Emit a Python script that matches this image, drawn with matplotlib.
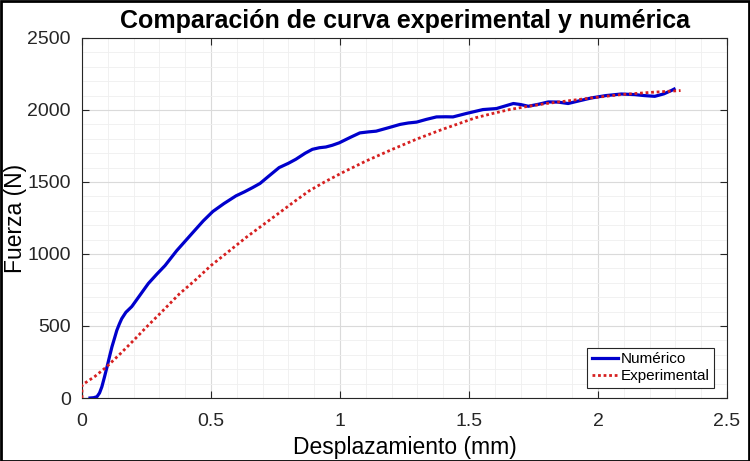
import matplotlib
matplotlib.use('Agg')
import matplotlib.pyplot as plt
from matplotlib.ticker import MultipleLocator

plt.rcParams['font.family'] = ['Liberation Sans', 'DejaVu Sans']

# curva numerica (desplazamiento mm, fuerza N)
num_x = [0.031, 0.045, 0.058, 0.068, 0.077, 0.087, 0.097, 0.107, 0.116, 0.126,
         0.135, 0.145, 0.154, 0.17, 0.193, 0.225, 0.257, 0.29, 0.322, 0.367,
         0.43, 0.47, 0.507, 0.55, 0.597, 0.63, 0.661, 0.69, 0.72, 0.764,
         0.80, 0.829, 0.865, 0.893, 0.92, 0.945, 0.97, 0.997, 1.04, 1.077,
         1.11, 1.14, 1.19, 1.233, 1.265, 1.297, 1.335, 1.374, 1.41, 1.438,
         1.49, 1.554, 1.606, 1.64, 1.672, 1.70, 1.73, 1.77, 1.807, 1.845,
         1.884, 1.93, 1.975, 2.03, 2.09, 2.142, 2.18, 2.22, 2.255, 2.284, 2.295]
num_y = [0, 2, 9, 35, 78, 145, 216, 290, 355, 415,
         470, 515, 551, 595, 635, 715, 795, 860, 920, 1023,
         1150, 1230, 1295, 1350, 1404, 1432, 1461, 1490, 1535, 1600,
         1630, 1658, 1700, 1727, 1738, 1743, 1755, 1772, 1810, 1841,
         1848, 1853, 1878, 1900, 1910, 1916, 1935, 1952, 1953, 1952,
         1976, 2003, 2010, 2028, 2045, 2038, 2026, 2040, 2056, 2055,
         2045, 2065, 2084, 2100, 2111, 2107, 2100, 2095, 2112, 2135, 2145]

# curva experimental
exp_x = [0, 0, 0.05, 0.095, 0.15, 0.2, 0.25, 0.31, 0.378, 0.44,
         0.5, 0.57, 0.636, 0.7, 0.764, 0.82, 0.88, 0.94, 1.009, 1.1,
         1.203, 1.3, 1.396, 1.46, 1.525, 1.59, 1.657, 1.73, 1.8, 1.89,
         1.975, 2.09, 2.2, 2.32]
exp_y = [0, 90, 150, 216, 310, 400, 493, 600, 724, 820,
         920, 1020, 1115, 1200, 1285, 1360, 1438, 1500, 1565, 1645,
         1727, 1800, 1865, 1905, 1946, 1975, 2003, 2026, 2045, 2065,
         2084, 2107, 2122, 2135]

fig = plt.figure(figsize=(7.5, 4.61), dpi=100)
ax = fig.add_axes([82 / 750, 1 - 398 / 461, 645 / 750, 360 / 461])

ax.plot(num_x, num_y, color='#0000CC', lw=2.3, label='Numérico', zorder=3)
ax.plot(exp_x, exp_y, color='#D62020', lw=2.0, ls=(0, (1, 1)),
        label='Experimental', zorder=4)

ax.set_xlim(0, 2.5)
ax.set_ylim(0, 2500)
ax.set_xticks([0, 0.5, 1, 1.5, 2, 2.5])
ax.set_xticklabels(['0', '0.5', '1', '1.5', '2', '2.5'])
ax.xaxis.set_minor_locator(MultipleLocator(0.1))
ax.yaxis.set_major_locator(MultipleLocator(500))
ax.yaxis.set_minor_locator(MultipleLocator(100))

ax.grid(which='major', color='#DADADA', lw=0.8)
ax.grid(which='minor', color='#EFEFEF', lw=0.6)
ax.set_axisbelow(True)
ax.tick_params(which='both', direction='in', top=True, right=True,
               labelsize=14, colors='#262626', length=5)
ax.tick_params(axis='x', pad=11)
ax.tick_params(axis='y', pad=8)
ax.tick_params(which='minor', length=0)
for s in ax.spines.values():
    s.set_color('#262626')
    s.set_linewidth(0.8)

ax.set_xlabel('Desplazamiento (mm)', fontsize=16.5, labelpad=4)
ax.set_ylabel('Fuerza (N)', fontsize=16.5)
ax.yaxis.set_label_coords(-0.085, 0.5)
ax.set_title('Comparación de curva experimental y numérica', fontsize=18,
             fontweight='bold', pad=7)

leg = ax.legend(loc='lower right', fontsize=11, fancybox=False,
                edgecolor='#262626', framealpha=1, handlelength=1.7,
                handletextpad=0.2, borderpad=0.3, labelspacing=0.2,
                borderaxespad=0, bbox_to_anchor=(0.98, 0.028))
leg.get_frame().set_linewidth(0.8)

fig.patches.append(plt.Rectangle((0.001, 0.001), 0.998, 0.997, transform=fig.transFigure,
                                 fill=False, edgecolor='black', lw=2))

fig.savefig('out.png', dpi=100)
